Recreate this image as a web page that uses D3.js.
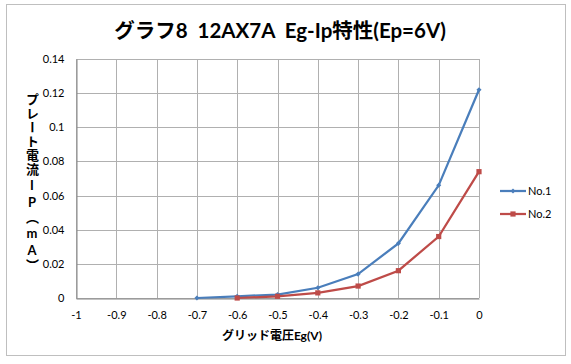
<!DOCTYPE html>
<html>
<head>
<meta charset="utf-8">
<script src="https://d3js.org/d3.v7.min.js"></script>
<style>
  body { margin: 0; background: #fff; }
  text { font-family: Lato, "Noto Sans CJK JP", sans-serif; }
  .tick text { font-size: 11px; fill: #000; }
</style>
</head>
<body>
<script>
// data
var egNo1 = [-0.7, -0.6, -0.5, -0.4, -0.3, -0.2, -0.1, 0];
var ipNo1 = [0, 0.001, 0.002, 0.006, 0.014, 0.032, 0.066, 0.122];
var egNo2 = [-0.6, -0.5, -0.4, -0.3, -0.2, -0.1, 0];
var ipNo2 = [0, 0.001, 0.003, 0.007, 0.016, 0.036, 0.074];
var xTicks = [-1, -0.9, -0.8, -0.7, -0.6, -0.5, -0.4, -0.3, -0.2, -0.1, 0];
var yTicks = [0, 0.02, 0.04, 0.06, 0.08, 0.1, 0.12, 0.14];
var seriesNames = ["No.1", "No.2"];

var W = 571, H = 364;
var plotL = 76, plotR = 479, plotT = 59, plotB = 298;

var svg = d3.select("body").append("svg")
    .attr("width", W)
    .attr("height", H);

// outer chart border
svg.append("rect")
    .attr("x", 6.5).attr("y", 4.5)
    .attr("width", 559).attr("height", 351)
    .attr("fill", "#fff")
    .attr("stroke", "#bfbfbf");

var x = d3.scaleLinear().domain([-1, 0]).range([plotL, plotR]);
var y = d3.scaleLinear().domain([0, 0.14]).range([plotB, plotT]);

// gridlines
svg.append("g").selectAll("line")
    .data(xTicks).enter().append("line")
    .attr("x1", d => Math.round(x(d)) + 0.5).attr("x2", d => Math.round(x(d)) + 0.5)
    .attr("y1", plotT).attr("y2", plotB)
    .attr("stroke", "#b0b0b0");
svg.append("g").selectAll("line")
    .data(yTicks).enter().append("line")
    .attr("y1", d => Math.round(y(d)) + 0.5).attr("y2", d => Math.round(y(d)) + 0.5)
    .attr("x1", plotL).attr("x2", plotR)
    .attr("stroke", "#b0b0b0");

// axes
var xAxis = svg.append("g")
    .attr("transform", "translate(0," + (Math.round(plotB) + 0.5) + ")")
    .call(d3.axisBottom(x).tickValues(xTicks).tickSize(0).tickPadding(13).tickFormat(d => +d.toFixed(1)));
xAxis.select(".domain").attr("stroke", "#868686");

var yAxis = svg.append("g")
    .attr("transform", "translate(" + (plotL + 0.5) + ",0)")
    .call(d3.axisLeft(y).tickValues(yTicks).tickSize(0).tickPadding(12).tickFormat(d => +d.toFixed(2)));
yAxis.select(".domain").attr("stroke", "#868686");

// series
var series = [
  { name: seriesNames[0], xs: egNo1, ys: ipNo1, color: "#4a7ebb", mark: "diamond" },
  { name: seriesNames[1], xs: egNo2, ys: ipNo2, color: "#be4b48", mark: "square" }
];
var line = d3.line().x(d => x(d[0])).y(d => y(d[1]));

function markPath(m) {
  return m === "diamond" ? "M-1.8,-1.8h3.6v3.6h-3.6z" : "M-2.6,-2.6h5.2v5.2h-5.2z";
}

series.forEach(function (s) {
  var pts = s.xs.map((v, i) => [v, s.ys[i]]);
  svg.append("path")
      .datum(pts)
      .attr("d", line)
      .attr("fill", "none")
      .attr("stroke", s.color)
      .attr("stroke-width", 2.25);
  svg.append("g").selectAll("path")
      .data(pts).enter().append("path")
      .attr("transform", d => "translate(" + x(d[0]) + "," + y(d[1]) + ")" + (s.mark === "diamond" ? " rotate(45)" : ""))
      .attr("d", markPath(s.mark))
      .attr("fill", s.color);
});

// legend
series.forEach(function (s, i) {
  var ly = 191 + i * 23;
  svg.append("line")
      .attr("x1", 500).attr("x2", 526)
      .attr("y1", ly).attr("y2", ly)
      .attr("stroke", s.color).attr("stroke-width", 2.25);
  svg.append("path")
      .attr("transform", "translate(513," + ly + ")" + (s.mark === "diamond" ? " rotate(45)" : ""))
      .attr("d", markPath(s.mark))
      .attr("fill", s.color);
  svg.append("text")
      .attr("x", 528).attr("y", ly + 4)
      .attr("font-size", 11)
      .text(s.name);
});

// title
svg.append("text")
    .attr("x", 280).attr("y", 38)
    .attr("text-anchor", "middle")
    .attr("font-size", 20.5)
    .attr("font-weight", "bold")
    .style("white-space", "pre")
    .text("グラフ8  12AX7A  Eg-Ip特性(Ep=6V)");

// axis titles
svg.append("text")
    .attr("x", 272).attr("y", 340)
    .attr("text-anchor", "middle")
    .attr("font-size", 12)
    .attr("font-weight", "bold")
    .text("グリッド電圧Eg(V)");

svg.append("text")
    .attr("x", 32).attr("y", 93)
    .attr("font-size", 13)
    .attr("font-weight", "bold")
    .style("writing-mode", "vertical-rl")
    .style("text-orientation", "upright")
    .style("letter-spacing", "1px")
    .text("プレート電流IP（mA）");
</script>
</body>
</html>
